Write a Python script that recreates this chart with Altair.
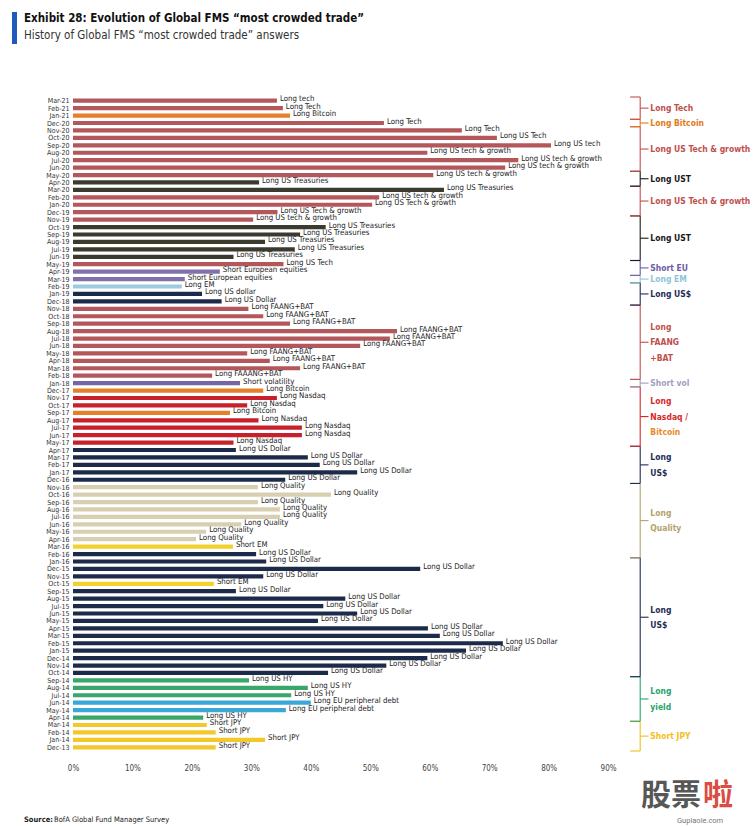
import altair as alt
import pandas as pd

# ---------------- data (top = most recent) ----------------
months = [
    "Mar-21", "Feb-21", "Jan-21",
    "Dec-20", "Nov-20", "Oct-20", "Sep-20", "Aug-20", "Jul-20", "Jun-20", "May-20", "Apr-20", "Mar-20", "Feb-20", "Jan-20",
    "Dec-19", "Nov-19", "Oct-19", "Sep-19", "Aug-19", "Jul-19", "Jun-19", "May-19", "Apr-19", "Mar-19", "Feb-19", "Jan-19",
    "Dec-18", "Nov-18", "Oct-18", "Sep-18", "Aug-18", "Jul-18", "Jun-18", "May-18", "Apr-18", "Mar-18", "Feb-18", "Jan-18",
    "Dec-17", "Nov-17", "Oct-17", "Sep-17", "Aug-17", "Jul-17", "Jun-17", "May-17", "Apr-17", "Mar-17", "Feb-17", "Jan-17",
    "Dec-16", "Nov-16", "Oct-16", "Sep-16", "Aug-16", "Jul-16", "Jun-16", "May-16", "Apr-16", "Mar-16", "Feb-16", "Jan-16",
    "Dec-15", "Nov-15", "Oct-15", "Sep-15", "Aug-15", "Jul-15", "Jun-15", "May-15", "Apr-15", "Mar-15", "Feb-15", "Jan-15",
    "Dec-14", "Nov-14", "Oct-14", "Sep-14", "Aug-14", "Jul-14", "Jun-14", "May-14", "Apr-14", "Mar-14", "Feb-14", "Jan-14",
    "Dec-13",
]

share_pct = [
    34.3, 35.3, 36.5,
    52.3, 65.4, 71.3, 80.4, 59.6, 74.9, 72.7, 60.6, 31.3, 62.4, 51.5, 50.3,
    34.4, 30.3, 42.5, 38.2, 32.3, 37.3, 27.0, 35.4, 24.7, 18.8, 18.3, 21.7,
    25.0, 29.5, 32.0, 36.5, 54.5, 53.3, 48.3, 29.3, 33.1, 38.2, 23.4, 28.1,
    32.0, 34.3, 29.3, 26.4, 31.2, 38.5, 38.5, 27.0, 27.4, 39.5, 41.5, 47.8,
    35.7, 31.1, 43.4, 31.1, 34.8, 34.8, 28.3, 22.4, 20.7, 26.9, 30.8, 32.5,
    58.4, 32.0, 23.7, 27.4, 45.8, 42.1, 47.8, 41.2, 59.7, 61.7, 72.3, 66.1,
    59.6, 52.7, 42.9, 29.6, 39.5, 36.7, 40.0, 35.8, 21.9, 22.5, 24.0, 32.3,
    24.0,
]

trade_labels = [
    "Long tech", "Long Tech", "Long Bitcoin",
    "Long Tech", "Long Tech", "Long US Tech", "Long US tech", "Long US tech & growth", "Long US tech & growth",
    "Long US tech & growth", "Long US tech & growth", "Long US Treasuries", "Long US Treasuries",
    "Long US tech & growth", "Long US Tech & growth",
    "Long US Tech & growth", "Long US tech & growth", "Long US Treasuries", "Long US Treasuries", "Long US Treasuries",
    "Long US Treasuries", "Long US Treasuries", "Long US Tech", "Short European equities", "Short European equities",
    "Long EM", "Long US dollar",
    "Long US Dollar", "Long FAANG+BAT", "Long FAANG+BAT", "Long FAANG+BAT", "Long FAANG+BAT", "Long FAANG+BAT",
    "Long FAANG+BAT", "Long FAANG+BAT", "Long FAANG+BAT", "Long FAANG+BAT", "Long FAAANG+BAT", "Short volatility",
    "Long Bitcoin", "Long Nasdaq", "Long Nasdaq", "Long Bitcoin", "Long Nasdaq", "Long Nasdaq", "Long Nasdaq",
    "Long Nasdaq", "Long US Dollar", "Long US Dollar", "Long US Dollar", "Long US Dollar",
    "Long US Dollar", "Long Quality", "Long Quality", "Long Quality", "Long Quality", "Long Quality", "Long Quality",
    "Long Quality", "Long Quality", "Short EM", "Long US Dollar", "Long US Dollar",
    "Long US Dollar", "Long US Dollar", "Short EM", "Long US Dollar", "Long US Dollar", "Long US Dollar",
    "Long US Dollar", "Long US Dollar", "Long US Dollar", "Long US Dollar", "Long US Dollar", "Long US Dollar",
    "Long US Dollar", "Long US Dollar", "Long US Dollar", "Long US HY", "Long US HY", "Long US HY",
    "Long EU peripheral debt", "Long EU peripheral debt", "Long US HY", "Short JPY", "Short JPY", "Short JPY",
    "Short JPY",
]

# trade -> colour group
trade_group = {
    "long tech": "Tech", "long us tech": "Tech", "long us tech & growth": "Tech",
    "long faang+bat": "Tech", "long faaang+bat": "Tech",
    "long bitcoin": "Bitcoin", "long us treasuries": "UST",
    "short european equities": "ShortEU", "long em": "EM", "long us dollar": "USD",
    "short volatility": "ShortVol", "long nasdaq": "Nasdaq", "long quality": "Quality",
    "short em": "ShortEM", "long us hy": "HY", "long eu peripheral debt": "EUP", "short jpy": "JPY",
}
group_names = ["Tech", "Bitcoin", "UST", "ShortEU", "EM", "USD", "ShortVol", "Nasdaq",
               "Quality", "ShortEM", "HY", "EUP", "JPY"]
group_colors = ["#b4575b", "#e57f2a", "#3a3a2e", "#8070ab", "#9ccbe0", "#1c2b4a", "#7567a3", "#c8202a",
                "#d8cfb1", "#f3d230", "#3aa66a", "#3aa7d6", "#f4c82a"]

# right-hand brackets
bracket_text = ["Long Tech", "Long Bitcoin", "Long US Tech & growth", "Long UST", "Long US Tech & growth",
                "Long UST", "Short EU", "Long EM", "Long US$", "Long\nFAANG\n+BAT", "Short vol",
                "Long\nNasdaq /\nBitcoin", "Long\nUS$", "Long\nQuality", "Long\nUS$", "Long\nyield", "Short JPY"]
bracket_first = ["Mar-21", "Dec-20", "Nov-20", "May-20", "Mar-20", "Nov-19", "May-19", "Mar-19", "Feb-19",
                 "Nov-18", "Jan-18", "Dec-17", "Apr-17", "Nov-16", "Jan-16", "Sep-14", "Mar-14"]
bracket_last = ["Jan-21", "Dec-20", "Jun-20", "Apr-20", "Dec-19", "Jun-19", "Apr-19", "Mar-19", "Dec-18",
                "Feb-18", "Jan-18", "May-17", "Dec-16", "Feb-16", "Oct-14", "Apr-14", "Dec-13"]
bracket_colors = ["#c0504d", "#e07b20", "#c0504d", "#1a1a1a", "#c0504d", "#1a1a1a", "#6b5ca5", "#8ec5d6",
                  "#1f2d55", "#c0504d", "#a19fc2", "#d42a2a", "#1f2d55", "#b3a36e", "#1f2d55", "#2aa36b",
                  "#f2c01e"]
line_color_override = {"Bitcoin": "#e88a2b"}

x_ticks = [0, 0.1, 0.2, 0.3, 0.4, 0.5, 0.6, 0.7, 0.8, 0.9]

# ---------------- tables ----------------
N = len(months)
PLOT_H = 664
ROW_PX = PLOT_H / N
LINE_PX = 15.5

df = pd.DataFrame({
    "idx": list(range(N)),
    "month": months,
    "value": [v / 100 for v in share_pct],
    "label": trade_labels,
})
df["group"] = [trade_group[l.lower()] for l in trade_labels]

pos = {m: i for i, m in enumerate(months)}
br = pd.DataFrame({
    "text": bracket_text,
    "color": bracket_colors,
    "top": [pos[m] - 0.5 for m in bracket_first],
    "bot": [pos[m] + 0.5 for m in bracket_last],
})
br["mid"] = (br["top"] + br["bot"]) / 2

rows = []
for _, r in br.iterrows():
    lines = r["text"].split("\n")
    n = len(lines)
    for j, ln in enumerate(lines):
        rows.append({
            "line": ln,
            "y": r["mid"] + (j - (n - 1) / 2) * LINE_PX / ROW_PX,
            "color": line_color_override.get(ln, r["color"]),
        })
blab = pd.DataFrame(rows)

NARROW = "Liberation Sans Narrow, Arial Narrow, DejaVu Sans Condensed, Roboto, sans-serif"

label_expr = "[" + ",".join("'" + m + "'" for m in months) + "][datum.value]"

y_scale = alt.Scale(domain=[-0.5, N - 0.5], reverse=True, nice=False, zero=False)
y_axis = alt.Axis(values=list(range(N)), labelExpr=label_expr, ticks=False, domain=False,
                  grid=False, title=None, labelFontSize=7, labelFont=NARROW, labelColor="#333333",
                  labelPadding=4, labelOverlap=False, labelBound=False)
x_scale = alt.Scale(domain=[0, 1.1], nice=False, zero=True)
x_axis = alt.Axis(values=x_ticks, format=".0%", ticks=False, domain=False, grid=False, title=None,
                  labelFontSize=8, labelFont=NARROW, labelColor="#444444", labelPadding=8,
                  labelFlush=False, labelOverlap=False)


def Y(f):
    return alt.Y(f, scale=y_scale, axis=y_axis)


base = alt.Chart(df)
bars = base.mark_bar(orient="horizontal", size=4.2).encode(
    x=alt.X("value:Q", scale=x_scale, axis=x_axis), y=Y("idx:Q"),
    color=alt.Color("group:N", scale=alt.Scale(domain=group_names, range=group_colors), legend=None),
)
texts = base.mark_text(align="left", baseline="middle", dx=3, dy=-1.5, fontSize=7.8, font=NARROW,
                       color="#222222").encode(
    x=alt.X("value:Q", scale=x_scale, axis=x_axis), y=Y("idx:Q"), text="label:N")

bb = alt.Chart(br)
col = alt.Color("color:N", scale=None)
vline = bb.mark_rule(strokeWidth=1.1).encode(x=alt.datum(0.954), y=Y("top:Q"), y2="bot:Q", color=col)
tline = bb.mark_rule(strokeWidth=1.1).encode(x=alt.datum(0.937), x2=alt.datum(0.954), y=Y("top:Q"), color=col)
bline = bb.mark_rule(strokeWidth=1.1).encode(x=alt.datum(0.937), x2=alt.datum(0.954), y=Y("bot:Q"), color=col)
mline = bb.mark_rule(strokeWidth=1.1).encode(x=alt.datum(0.954), x2=alt.datum(0.968), y=Y("mid:Q"), color=col)
blabel = alt.Chart(blab).mark_text(align="left", baseline="middle", fontSize=8.5, fontWeight="bold",
                                   font=NARROW).encode(
    x=alt.datum(0.971), y=Y("y:Q"), text="line:N", color=col)

one = pd.DataFrame({"k": [0]})
blue_bar = alt.Chart(one).mark_rect(color="#1f5bb8").encode(
    x=alt.value(-61), x2=alt.value(-56), y=alt.value(-80), y2=alt.value(-48))
title = alt.Chart(one).mark_text(align="left", baseline="middle", fontSize=11.5, fontWeight="bold",
                                 font=NARROW, color="#111111").encode(
    x=alt.value(-49), y=alt.value(-73),
    text=alt.value("Exhibit 28: Evolution of Global FMS \u201cmost crowded trade\u201d"))
subtitle = alt.Chart(one).mark_text(align="left", baseline="middle", fontSize=11.5,
                                    font=NARROW, color="#333333").encode(
    x=alt.value(-49), y=alt.value(-56),
    text=alt.value("History of Global FMS \u201cmost crowded trade\u201d answers"))
src1 = alt.Chart(one).mark_text(align="left", baseline="middle", fontSize=7.5, fontWeight="bold",
                                font=NARROW, color="#222222").encode(
    x=alt.value(-49), y=alt.value(728), text=alt.value("Source:"))
src2 = alt.Chart(one).mark_text(align="left", baseline="middle", fontSize=7.5,
                                font=NARROW, color="#222222").encode(
    x=alt.value(-19), y=alt.value(728), text=alt.value("BofA Global Fund Manager Survey"))
wm1 = alt.Chart(one).mark_text(align="left", baseline="middle", fontSize=30, fontWeight="bold",
                               font="Noto Sans CJK SC", color="#3a3a3a", opacity=0.85).encode(
    x=alt.value(568), y=alt.value(704), text=alt.value("股票"))
wm2 = alt.Chart(one).mark_text(align="left", baseline="middle", fontSize=30, fontWeight="bold",
                               font="Noto Sans CJK SC", color="#d63a2f", opacity=0.9).encode(
    x=alt.value(630), y=alt.value(704), text=alt.value("啦"))
wm3 = alt.Chart(one).mark_text(align="left", baseline="middle", fontSize=7.5,
                               font="Roboto", color="#777777").encode(
    x=alt.value(604), y=alt.value(729), text=alt.value("Gupiaole.com"))

chart = alt.layer(
    bars, texts, vline, tline, bline, mline, blabel,
    blue_bar, title, subtitle, src1, src2, wm1, wm2, wm3,
).properties(
    width=654, height=PLOT_H,
    autosize=alt.AutoSizeParams(type="none"),
    padding={"left": 73, "top": 92, "right": 27, "bottom": 70},
    background="white",
).configure_view(stroke=None).configure_axisY(labelOverlap=False)

chart.save("out.html", embed_options={"renderer": "svg", "actions": False})
